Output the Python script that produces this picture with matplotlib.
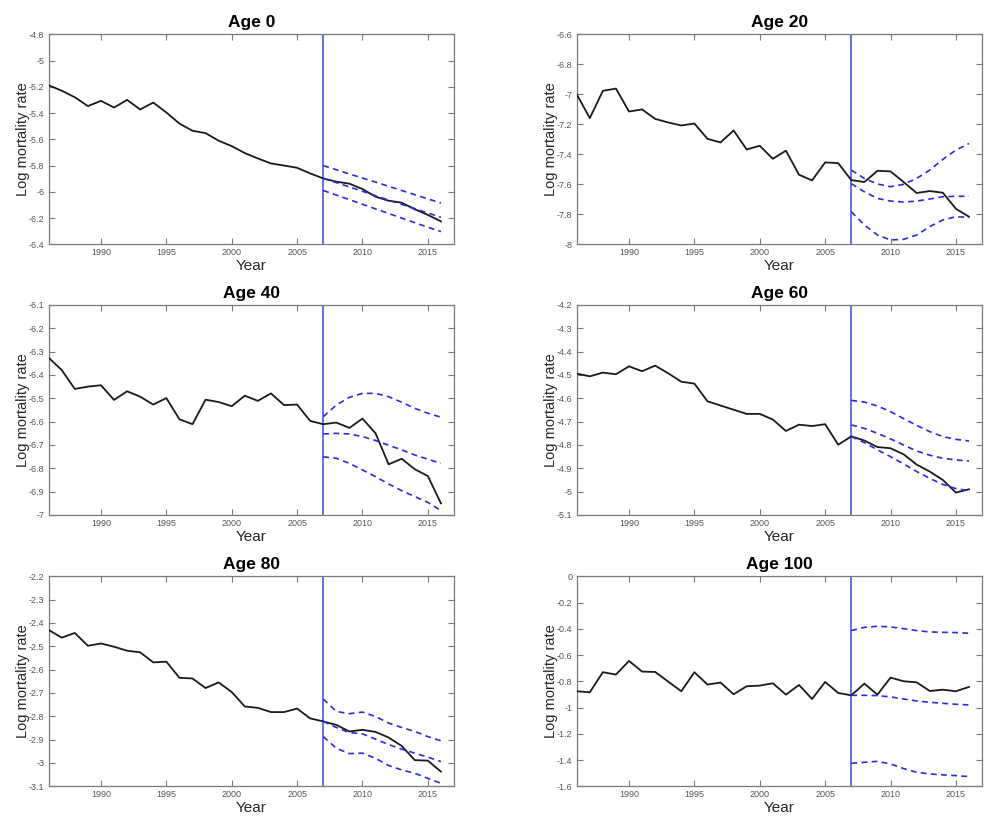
import matplotlib
matplotlib.use("Agg")
import matplotlib.pyplot as plt
import numpy as np

plt.rcParams['font.family'] = ['Liberation Sans', 'DejaVu Sans']

years = np.arange(1986, 2017)
fc_years = np.arange(2007, 2017)
split_year = 2007

ages = [0, 20, 40, 60, 80, 100]

obs_age0 = [-5.188, -5.23, -5.28, -5.347, -5.307, -5.358, -5.30, -5.373, -5.32, -5.396,
            -5.48, -5.535, -5.553, -5.611, -5.652, -5.705, -5.746, -5.784, -5.80, -5.817,
            -5.86, -5.898, -5.923, -5.938, -5.979, -6.037, -6.068, -6.083, -6.133, -6.176,
            -6.225]
obs_age20 = [-7.00, -7.159, -6.977, -6.962, -7.115, -7.101, -7.164, -7.188, -7.208, -7.195,
             -7.297, -7.321, -7.241, -7.368, -7.343, -7.43, -7.376, -7.536, -7.574, -7.454,
             -7.459, -7.572, -7.585, -7.51, -7.514, -7.585, -7.658, -7.645, -7.656, -7.763,
             -7.816]
obs_age40 = [-6.326, -6.379, -6.46, -6.45, -6.444, -6.507, -6.47, -6.493, -6.527, -6.499,
             -6.59, -6.611, -6.506, -6.516, -6.534, -6.489, -6.511, -6.479, -6.529, -6.527,
             -6.597, -6.611, -6.604, -6.627, -6.587, -6.65, -6.783, -6.759, -6.804, -6.833,
             -6.95]
obs_age60 = [-4.494, -4.506, -4.49, -4.497, -4.463, -4.484, -4.46, -4.493, -4.529, -4.537,
             -4.613, -4.631, -4.649, -4.667, -4.667, -4.691, -4.74, -4.713, -4.719, -4.711,
             -4.799, -4.763, -4.781, -4.809, -4.814, -4.84, -4.884, -4.914, -4.95, -5.004,
             -4.99]
obs_age80 = [-2.430, -2.463, -2.443, -2.498, -2.488, -2.502, -2.519, -2.526, -2.569, -2.566,
             -2.635, -2.638, -2.679, -2.655, -2.696, -2.758, -2.764, -2.782, -2.782, -2.767,
             -2.809, -2.822, -2.837, -2.865, -2.858, -2.867, -2.891, -2.927, -2.988, -2.99,
             -3.037]
obs_age100 = [-0.876, -0.884, -0.731, -0.749, -0.645, -0.726, -0.729, -0.803, -0.876, -0.731,
              -0.825, -0.81, -0.899, -0.838, -0.833, -0.815, -0.902, -0.828, -0.935, -0.805,
              -0.889, -0.907, -0.818, -0.902, -0.772, -0.80, -0.808, -0.874, -0.864, -0.876,
              -0.843]

# forecast bands 2007-2016: upper, central, lower
up_age0 = [-5.80, -5.832, -5.864, -5.895, -5.926, -5.958, -5.990, -6.022, -6.054, -6.085]
mid_age0 = [-5.898, -5.93, -5.963, -5.996, -6.03, -6.063, -6.096, -6.128, -6.161, -6.194]
low_age0 = [-5.99, -6.025, -6.06, -6.095, -6.13, -6.165, -6.20, -6.235, -6.27, -6.303]

up_age20 = [-7.505, -7.561, -7.598, -7.616, -7.60, -7.561, -7.505, -7.434, -7.372, -7.328]
mid_age20 = [-7.596, -7.65, -7.694, -7.712, -7.718, -7.712, -7.698, -7.683, -7.68, -7.68]
low_age20 = [-7.783, -7.871, -7.938, -7.971, -7.967, -7.938, -7.882, -7.838, -7.816, -7.82]

up_age40 = [-6.579, -6.529, -6.496, -6.479, -6.479, -6.493, -6.517, -6.543, -6.564, -6.581]
mid_age40 = [-6.653, -6.65, -6.653, -6.664, -6.681, -6.701, -6.721, -6.743, -6.761, -6.779]
low_age40 = [-6.751, -6.757, -6.779, -6.807, -6.836, -6.867, -6.896, -6.921, -6.946, -6.981]

up_age60 = [-4.609, -4.616, -4.633, -4.657, -4.687, -4.716, -4.743, -4.764, -4.776, -4.783]
mid_age60 = [-4.714, -4.729, -4.75, -4.774, -4.80, -4.826, -4.844, -4.857, -4.864, -4.869]
low_age60 = [-4.764, -4.79, -4.821, -4.85, -4.881, -4.914, -4.943, -4.969, -4.987, -4.996]

up_age80 = [-2.726, -2.779, -2.789, -2.782, -2.801, -2.829, -2.848, -2.865, -2.887, -2.905]
mid_age80 = [-2.822, -2.848, -2.87, -2.875, -2.898, -2.921, -2.941, -2.958, -2.975, -2.994]
low_age80 = [-2.887, -2.937, -2.96, -2.958, -2.98, -3.011, -3.03, -3.044, -3.066, -3.087]

up_age100 = [-0.414, -0.389, -0.381, -0.386, -0.399, -0.414, -0.424, -0.427, -0.429, -0.434]
mid_age100 = [-0.907, -0.907, -0.909, -0.919, -0.935, -0.95, -0.96, -0.968, -0.975, -0.98]
low_age100 = [-1.425, -1.417, -1.41, -1.43, -1.465, -1.493, -1.506, -1.513, -1.519, -1.526]

observed = [obs_age0, obs_age20, obs_age40, obs_age60, obs_age80, obs_age100]
bands = [
    (up_age0, mid_age0, low_age0),
    (up_age20, mid_age20, low_age20),
    (up_age40, mid_age40, low_age40),
    (up_age60, mid_age60, low_age60),
    (up_age80, mid_age80, low_age80),
    (up_age100, mid_age100, low_age100),
]
ylims = [(-6.4, -4.8), (-8, -6.6), (-7, -6.1), (-5.1, -4.2), (-3.1, -2.2), (-1.6, 0)]
ysteps = [0.2, 0.2, 0.1, 0.1, 0.1, 0.2]
xticks = [1990, 1995, 2000, 2005, 2010, 2015]

fig = plt.figure(figsize=(9.85, 8.16), dpi=100)

col_left = [0.0494, 0.5855]
row_bottom = [0.7006, 0.3689, 0.0364]
ax_w, ax_h = 0.4115, 0.2574

axis_gray = '#7a7a7a'
label_gray = '#555555'
fc_blue = '#2a2ae6'
line_blue = '#3a4ad8'


def fmt(v):
    s = f"{v:.1f}"
    if s.endswith(".0"):
        s = s[:-2]
    if s == "-0":
        s = "0"
    return s


for i, age in enumerate(ages):
    r, c = divmod(i, 2)
    ax = fig.add_axes([col_left[c], row_bottom[r], ax_w, ax_h])
    ax.plot(years, observed[i], color='#1a1a1a', lw=1.3, zorder=3)
    up, mid, low = bands[i]
    for band in (up, mid, low):
        ax.plot(fc_years, band, color=fc_blue, lw=1.2, ls=(0, (3.5, 2.6)), zorder=4)
    ax.axvline(split_year, color=line_blue, lw=1.1, zorder=2)

    lo, hi = ylims[i]
    ax.set_xlim(1986, 2017)
    ax.set_ylim(lo, hi)
    yt = np.round(np.arange(lo, hi + 1e-9, ysteps[i]), 2)
    ax.set_yticks(yt)
    ax.set_yticklabels([fmt(v) for v in yt])
    ax.set_xticks(xticks)
    ax.set_xticklabels([str(x) for x in xticks])

    ax.tick_params(direction='in', length=4, width=0.8, colors=axis_gray,
                   labelcolor=label_gray, labelsize=6.5, top=True, right=True, pad=3)
    for sp in ax.spines.values():
        sp.set_color(axis_gray)
        sp.set_linewidth(0.9)

    ax.set_title(f"Age {age}", fontsize=12.5, fontweight='bold', pad=5)
    ax.set_xlabel("Year", fontsize=11, color='#262626', labelpad=1)
    ax.set_ylabel("Log mortality rate", fontsize=10.5, color='#262626', labelpad=-1)

fig.savefig("out.png", dpi=100)
